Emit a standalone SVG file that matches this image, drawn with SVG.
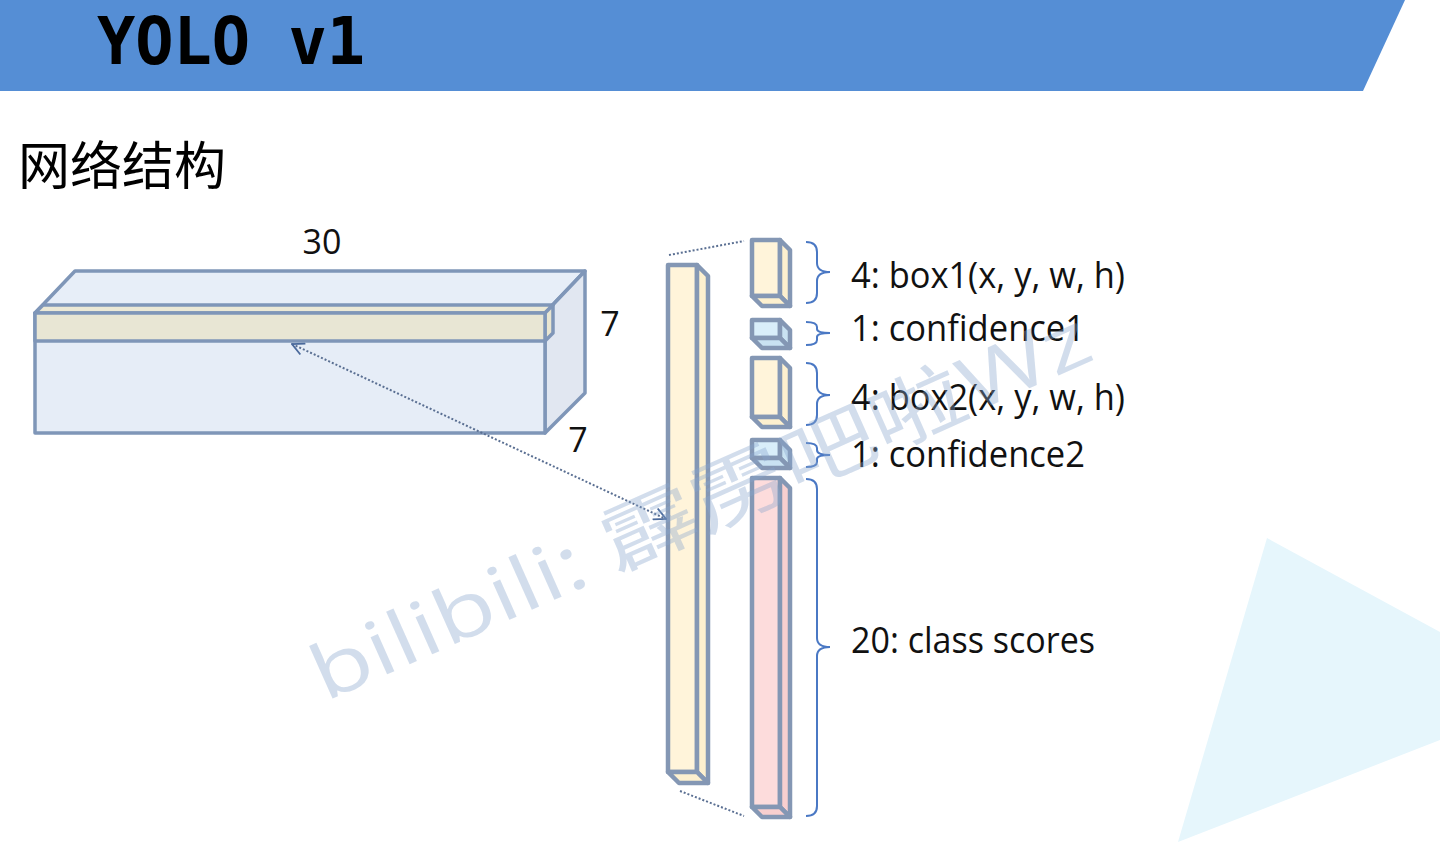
<svg xmlns="http://www.w3.org/2000/svg" width="1440" height="850" viewBox="0 0 1440 850">
<defs>
<style>
.box{stroke:#8497b4;stroke-width:4.5;stroke-linejoin:round}
.big{stroke:#7f96b8;stroke-width:3.5;stroke-linejoin:round}
.cream{fill:#fff4da}
.cream2{fill:#fdf0cf}
.blue{fill:#d9eefa}
.blue2{fill:#c9e2f2}
.pink{fill:#fddcdc}
.pink2{fill:#f8cfcf}
.brace{fill:none;stroke:#4a78c4;stroke-width:2}
.lbl{font-family:"Open Sans","Noto Sans",sans-serif;font-size:36px;fill:#111}
.dim{font-family:"Open Sans","Noto Sans",sans-serif;font-size:34px;fill:#111}
.dot{fill:none;stroke:#5a6f92;stroke-width:2;stroke-dasharray:2 2}
</style>
<marker id="open" viewBox="0 0 14 14" refX="13" refY="7" markerWidth="14" markerHeight="14" markerUnits="userSpaceOnUse" orient="auto-start-reverse">
<path d="M1,1 L13,7 L1,13" fill="none" stroke="#4b6a9c" stroke-width="1.8"/>
</marker>
</defs>
<rect width="1440" height="850" fill="#ffffff"/>
<polygon points="1267,538 1440,632 1440,740 1178,842" fill="#e6f6fc"/>
<g id="header">
<polygon points="0,0 1405,0 1363,91 0,91" fill="#558ed5"/>
<text x="97" y="64" font-family="DejaVu Sans Mono, monospace" font-weight="bold" font-size="66" textLength="268" lengthAdjust="spacingAndGlyphs" fill="#000">YOLO v1</text>
</g>
<text id="subtitle" x="18" y="185" font-family="Noto Sans CJK SC, sans-serif" font-size="52" fill="#000">网络结构</text>

<g id="tensor">
<polygon class="big" points="35,313 75,271 585,271 545,313" fill="#e7eef8"/>
<polygon class="big" points="545,313 585,271 585,393 545,433" fill="#e1e7f1"/>
<rect class="big" x="35" y="313" width="510" height="120" fill="#e6edf7"/>
<polygon class="big" points="35,313 43,305 553,305 545,313" fill="#ece9d6"/>
<polygon class="big" points="545,313 553,305 553,333 545,341" fill="#e9e6d1"/>
<rect class="big" x="35" y="313" width="510" height="28" fill="#e8e6d4"/>
<text class="dim" x="322" y="254" text-anchor="middle">30</text>
<text class="dim" x="610" y="336" text-anchor="middle">7</text>
<text class="dim" x="578" y="452" text-anchor="middle">7</text>
</g>

<g id="vector">
<rect class="box cream" x="668" y="265" width="29" height="507"/>
<polygon class="box cream2" points="697,265 708,276 708,783 697,772"/>
<polygon class="box cream2" points="668,772 697,772 708,783 679,783"/>
</g>

<g id="box1">
<rect class="box cream" x="752" y="240" width="28" height="56"/>
<polygon class="box cream2" points="780,240 790,250 790,306 780,296"/>
<polygon class="box cream2" points="752,296 780,296 790,306 762,306"/>
</g>
<g id="conf1">
<rect class="box blue" x="752" y="320" width="28" height="18"/>
<polygon class="box blue2" points="780,320 790,330 790,348 780,338"/>
<polygon class="box blue2" points="752,338 780,338 790,348 762,348"/>
</g>
<g id="box2">
<rect class="box cream" x="752" y="358" width="28" height="59"/>
<polygon class="box cream2" points="780,358 790,368 790,427 780,417"/>
<polygon class="box cream2" points="752,417 780,417 790,427 762,427"/>
</g>
<g id="conf2">
<rect class="box blue" x="752" y="440" width="28" height="18"/>
<polygon class="box blue2" points="780,440 790,450 790,468 780,458"/>
<polygon class="box blue2" points="752,458 780,458 790,468 762,468"/>
</g>
<g id="classes">
<rect class="box pink" x="752" y="478" width="28" height="329"/>
<polygon class="box pink2" points="780,478 790,488 790,817 780,807"/>
<polygon class="box pink2" points="752,807 780,807 790,817 762,817"/>
</g>

<g id="braces">
<path class="brace" d="M806,242 Q817,242 817,252 L817,263 Q817,272 830,272 Q817,272 817,281 L817,293 Q817,303 806,303"/>
<path class="brace" d="M806,322 Q817,322 817,327 L817,329 Q817,333 830,333 Q817,333 817,337 L817,340 Q817,345 806,345"/>
<path class="brace" d="M806,363 Q817,363 817,373 L817,386 Q817,395 830,395 Q817,395 817,404 L817,415 Q817,425 806,425"/>
<path class="brace" d="M806,443 Q817,443 817,448 L817,450 Q817,455 830,455 Q817,455 817,459 L817,462 Q817,467 806,467"/>
<path class="brace" d="M806,479 Q817,479 817,489 L817,638 Q817,647 830,647 Q817,647 817,656 L817,806 Q817,816 806,816"/>
</g>

<g id="labels">
<text class="lbl" x="851" y="288" textLength="274" lengthAdjust="spacingAndGlyphs">4: box1(x, y, w, h)</text>
<text class="lbl" x="851" y="341" textLength="234" lengthAdjust="spacingAndGlyphs">1: confidence1</text>
<text class="lbl" x="851" y="410" textLength="274" lengthAdjust="spacingAndGlyphs">4: box2(x, y, w, h)</text>
<text class="lbl" x="851" y="467" textLength="234" lengthAdjust="spacingAndGlyphs">1: confidence2</text>
<text class="lbl" x="851" y="653" textLength="244" lengthAdjust="spacingAndGlyphs">20: class scores</text>
</g>

<g id="connectors">
<line class="dot" x1="292" y1="344" x2="666" y2="519" marker-start="url(#open)" marker-end="url(#open)"/>
<line class="dot" x1="669" y1="255" x2="744" y2="241"/>
<line class="dot" x1="680" y1="791" x2="744" y2="816"/>
</g>

<text id="watermark" x="325" y="702" transform="rotate(-24 325 702)" font-family="Open Sans, Noto Sans CJK SC, sans-serif" font-size="76" fill="#8aa6cc" fill-opacity="0.38" textLength="845" lengthAdjust="spacingAndGlyphs">bilibili: 霹雳吧啦Wz</text>
</svg>
